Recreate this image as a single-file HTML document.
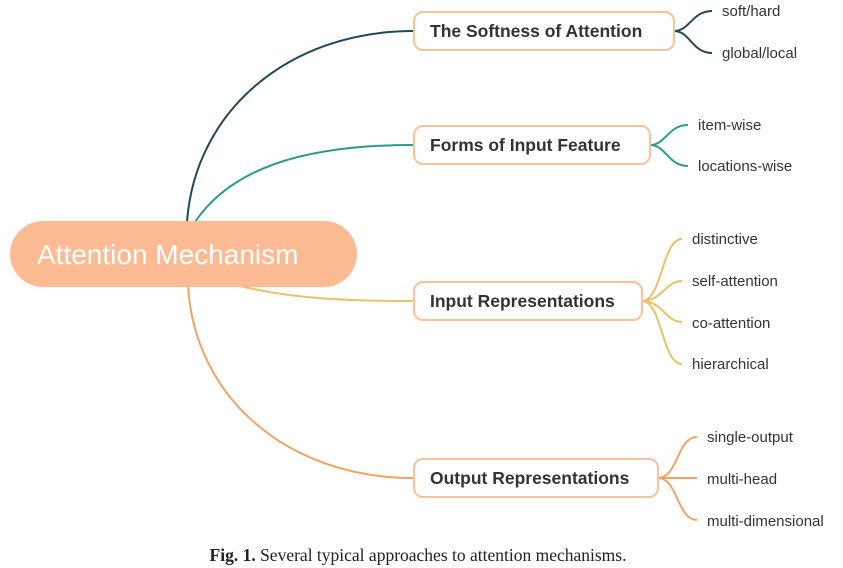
<!DOCTYPE html>
<html><head><meta charset="utf-8"><style>
body{margin:0;background:#fff;width:843px;height:568px;overflow:hidden}
svg{display:block}
.b{font-family:"Liberation Sans",Arial,sans-serif;font-weight:bold;font-size:17.5px;fill:#333}
.l{font-family:"Liberation Sans",Arial,sans-serif;font-size:15px;fill:#333}
</style></head><body>
<svg width="843" height="568" viewBox="0 0 843 568" xmlns="http://www.w3.org/2000/svg">
<g fill="none" stroke-width="2">
<path d="M187 222 C195 110 290 31 413 31" stroke="#1f4858"/>
<path d="M195 222 C230 170 300 145 413 145" stroke="#2a9d8a"/>
<path d="M240 286 C290 298 340 301 413 301" stroke="#e8c264"/>
<path d="M188 286 C195 400 290 478 413 478" stroke="#f2a264"/>
<path d="M674 31 C690 31 692 11 712 11 M674 31 C690 31 692 53 712 53" stroke="#1f4858"/>
<path d="M650 145 C666 145 668 125 688 125 M650 145 C666 145 668 166 688 166" stroke="#2a9d8a"/>
<path d="M642 301 C662 301 662 239 682 239 M642 301 C662 301 666 281 682 281 M642 301 C662 301 666 322 682 322 M642 301 C662 301 662 364 682 364" stroke="#e8c264"/>
<path d="M658 478 C678 478 677 437 697 437 M658 478 L697 478 M658 478 C678 478 677 520 697 520" stroke="#f2a264"/>
</g>
<rect x="10" y="221" width="347" height="66" rx="33" fill="#fdbb93"/>
<text x="37" y="264" font-family="Liberation Sans,Arial,sans-serif" font-size="28" fill="#fff">Attention Mechanism</text>
<g fill="#fff" stroke="#fcc09a" stroke-width="2">
<rect x="414" y="12" width="260" height="38" rx="9"/>
<rect x="414" y="126" width="236" height="38" rx="9"/>
<rect x="414" y="282" width="228" height="38" rx="9"/>
<rect x="414" y="459" width="244" height="38" rx="9"/>
</g>
<text class="b" x="430" y="37">The Softness of Attention</text>
<text class="b" x="430" y="151">Forms of Input Feature</text>
<text class="b" x="430" y="307">Input Representations</text>
<text class="b" x="430" y="484">Output Representations</text>
<text class="l" x="722" y="16">soft/hard</text>
<text class="l" x="722" y="58">global/local</text>
<text class="l" x="698" y="130">item-wise</text>
<text class="l" x="698" y="171">locations-wise</text>
<text class="l" x="692" y="244">distinctive</text>
<text class="l" x="692" y="286">self-attention</text>
<text class="l" x="692" y="328">co-attention</text>
<text class="l" x="692" y="369">hierarchical</text>
<text class="l" x="707" y="442">single-output</text>
<text class="l" x="707" y="484">multi-head</text>
<text class="l" x="707" y="526">multi-dimensional</text>
<rect x="700" y="526" width="143" height="14" fill="#fff"/>
<text x="418" y="561" text-anchor="middle" font-family="Liberation Serif,serif" font-size="17.5" fill="#222"><tspan font-weight="bold">Fig. 1.</tspan> Several typical approaches to attention mechanisms.</text>
</svg>
</body></html>
